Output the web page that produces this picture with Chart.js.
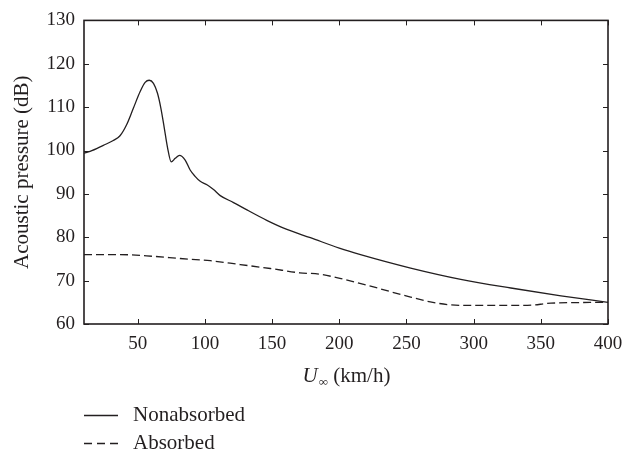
<!DOCTYPE html>
<html>
<head>
<meta charset="utf-8">
<script src="https://cdn.jsdelivr.net/npm/chart.js@4/dist/chart.umd.min.js"></script>
<style>
  html, body { margin: 0; padding: 0; background: #fff; }
  #wrap { width: 636px; height: 456px; }
</style>
</head>
<body>
<div id="wrap"><canvas id="chartvas" width="636" height="456"></canvas></div>
<script>
'use strict';

// speed (km/h) and acoustic pressure (dB)
const speedNonabs = [10, 14.5, 24.4, 31.8, 36.8, 41.8, 46.8, 51.8, 55.5, 58.5, 61.7, 64.7, 67.2, 69.7, 72.1, 74.9, 77.9, 81.1, 85.3, 89, 92.5, 96.5, 101.5, 106.4, 111.4, 121.3, 131.3, 146, 161, 178.5, 200, 215.8, 253.1, 290.4, 327.7, 365, 400];
const pressNonabs = [99.4, 99.8, 101.2, 102.3, 103.4, 106, 109.8, 113.6, 115.7, 116.2, 115.5, 113.2, 109.8, 105.3, 100.8, 97.4, 98.2, 98.9, 97.8, 95.5, 94.1, 92.9, 92.1, 91, 89.6, 88, 86.3, 83.9, 81.8, 79.9, 77.5, 76, 72.9, 70.3, 68.3, 66.5, 65.0];

const speedAbs = [10, 36.8, 61.7, 81.6, 104, 126.3, 148.7, 170.6, 185, 203.4, 228.3, 253.1, 273, 290.4, 340, 357.5, 400];
const pressAbs = [76, 76, 75.6, 75.1, 74.6, 73.7, 72.8, 71.8, 71.5, 70.3, 68.3, 66.2, 64.8, 64.3, 64.3, 64.8, 65.0];

const xTicks = [50, 100, 150, 200, 250, 300, 350, 400];
const yTicks = [60, 70, 80, 90, 100, 110, 120, 130];

const seriesNames = ['Nonabsorbed', 'Absorbed'];
const xTitle = ['U', '\u221E', ' (km/h)'];
const yTitle = 'Acoustic pressure (dB)';

const ink = '#231f20';
const serif = '"Liberation Serif", "DejaVu Serif", serif';

const toPoints = (xs, ys) => xs.map((x, i) => ({ x: x, y: ys[i] }));

// frame, inward ticks, x title and legend
const framePlugin = {
    id: 'frame',
    afterDraw(chart) {
        const ctx = chart.ctx;
        const a = chart.chartArea;
        const xs = chart.scales.x;
        const ys = chart.scales.y;
        const tl = 5;
        ctx.save();
        ctx.strokeStyle = ink;
        ctx.lineWidth = 1;
        xTicks.forEach(v => {
            const px = Math.round(xs.getPixelForValue(v)) + 0.5;
            ctx.beginPath();
            ctx.moveTo(px, a.bottom); ctx.lineTo(px, a.bottom - tl);
            ctx.moveTo(px, a.top); ctx.lineTo(px, a.top + tl);
            ctx.stroke();
        });
        yTicks.forEach(v => {
            const py = Math.round(ys.getPixelForValue(v)) + 0.5;
            ctx.beginPath();
            ctx.moveTo(a.left, py); ctx.lineTo(a.left + tl, py);
            ctx.moveTo(a.right, py); ctx.lineTo(a.right - tl, py);
            ctx.stroke();
        });
        ctx.lineWidth = 1.6;
        ctx.strokeRect(a.left, a.top, a.right - a.left, a.bottom - a.top);

        // x axis title with subscript infinity
        ctx.fillStyle = ink;
        ctx.textBaseline = 'alphabetic';
        ctx.textAlign = 'left';
        const f1 = 'italic 21px ' + serif;
        const f2 = '13px ' + serif;
        const f3 = '21px ' + serif;
        ctx.font = f1; const w1 = ctx.measureText(xTitle[0]).width;
        ctx.font = f2; const w2 = ctx.measureText(xTitle[1]).width;
        ctx.font = f3; const w3 = ctx.measureText(xTitle[2]).width;
        let tx = (a.left + a.right) / 2 - (w1 + w2 + w3) / 2;
        const base = 382;
        ctx.font = f1; ctx.fillText(xTitle[0], tx, base); tx += w1 + 1;
        ctx.font = f2; ctx.fillText(xTitle[1], tx, base + 4); tx += w2;
        ctx.font = f3; ctx.fillText(xTitle[2], tx, base);

        // legend
        ctx.font = '21px ' + serif;
        ctx.textBaseline = 'middle';
        chart.data.datasets.forEach((ds, i) => {
            const ly = 415 + i * 28;
            ctx.beginPath();
            ctx.lineWidth = 1.3;
            ctx.setLineDash(ds.borderDash ? [8, 5] : []);
            ctx.moveTo(a.left, ly + 0.5);
            ctx.lineTo(a.left + 34, ly + 0.5);
            ctx.stroke();
            ctx.setLineDash([]);
            ctx.fillText(ds.label, a.left + 49, ly);
        });
        ctx.restore();
    }
};

const chartvas = document.getElementById('chartvas');

new Chart(chartvas, {
    type: 'line',
    data: {
        datasets: [
            {
                label: seriesNames[0],
                data: toPoints(speedNonabs, pressNonabs),
                borderColor: ink,
                borderWidth: 1.3,
                pointRadius: 0,
                cubicInterpolationMode: 'monotone',
                fill: false
            },
            {
                label: seriesNames[1],
                data: toPoints(speedAbs, pressAbs),
                borderColor: ink,
                borderWidth: 1.3,
                borderDash: [8, 4],
                pointRadius: 0,
                cubicInterpolationMode: 'monotone',
                fill: false
            }
        ]
    },
    options: {
        responsive: false,
        animation: false,
        layout: { padding: { top: 14, right: 28, left: 0, bottom: 92 } },
        plugins: {
            legend: { display: false },
            tooltip: { enabled: false }
        },
        scales: {
            x: {
                type: 'linear',
                min: 10,
                max: 400,
                afterBuildTicks: s => { s.ticks = xTicks.map(v => ({ value: v })); },
                afterFit: s => { s.height = 40; },
                grid: { display: false, drawTicks: false },
                border: { display: false },
                ticks: { color: ink, font: { family: serif, size: 19 }, padding: 9, maxRotation: 0 }
            },
            y: {
                min: 60,
                max: 130,
                afterBuildTicks: s => { s.ticks = yTicks.map(v => ({ value: v })); },
                afterFit: s => { s.width = 84; },
                grid: { display: false, drawTicks: false },
                border: { display: false },
                ticks: { color: ink, font: { family: serif, size: 19 }, padding: 9 },
                title: {
                    display: true,
                    text: yTitle,
                    color: ink,
                    font: { family: serif, size: 21 },
                    padding: { top: 10, bottom: 0 }
                }
            }
        }
    },
    plugins: [framePlugin]
});
</script>
</body>
</html>
